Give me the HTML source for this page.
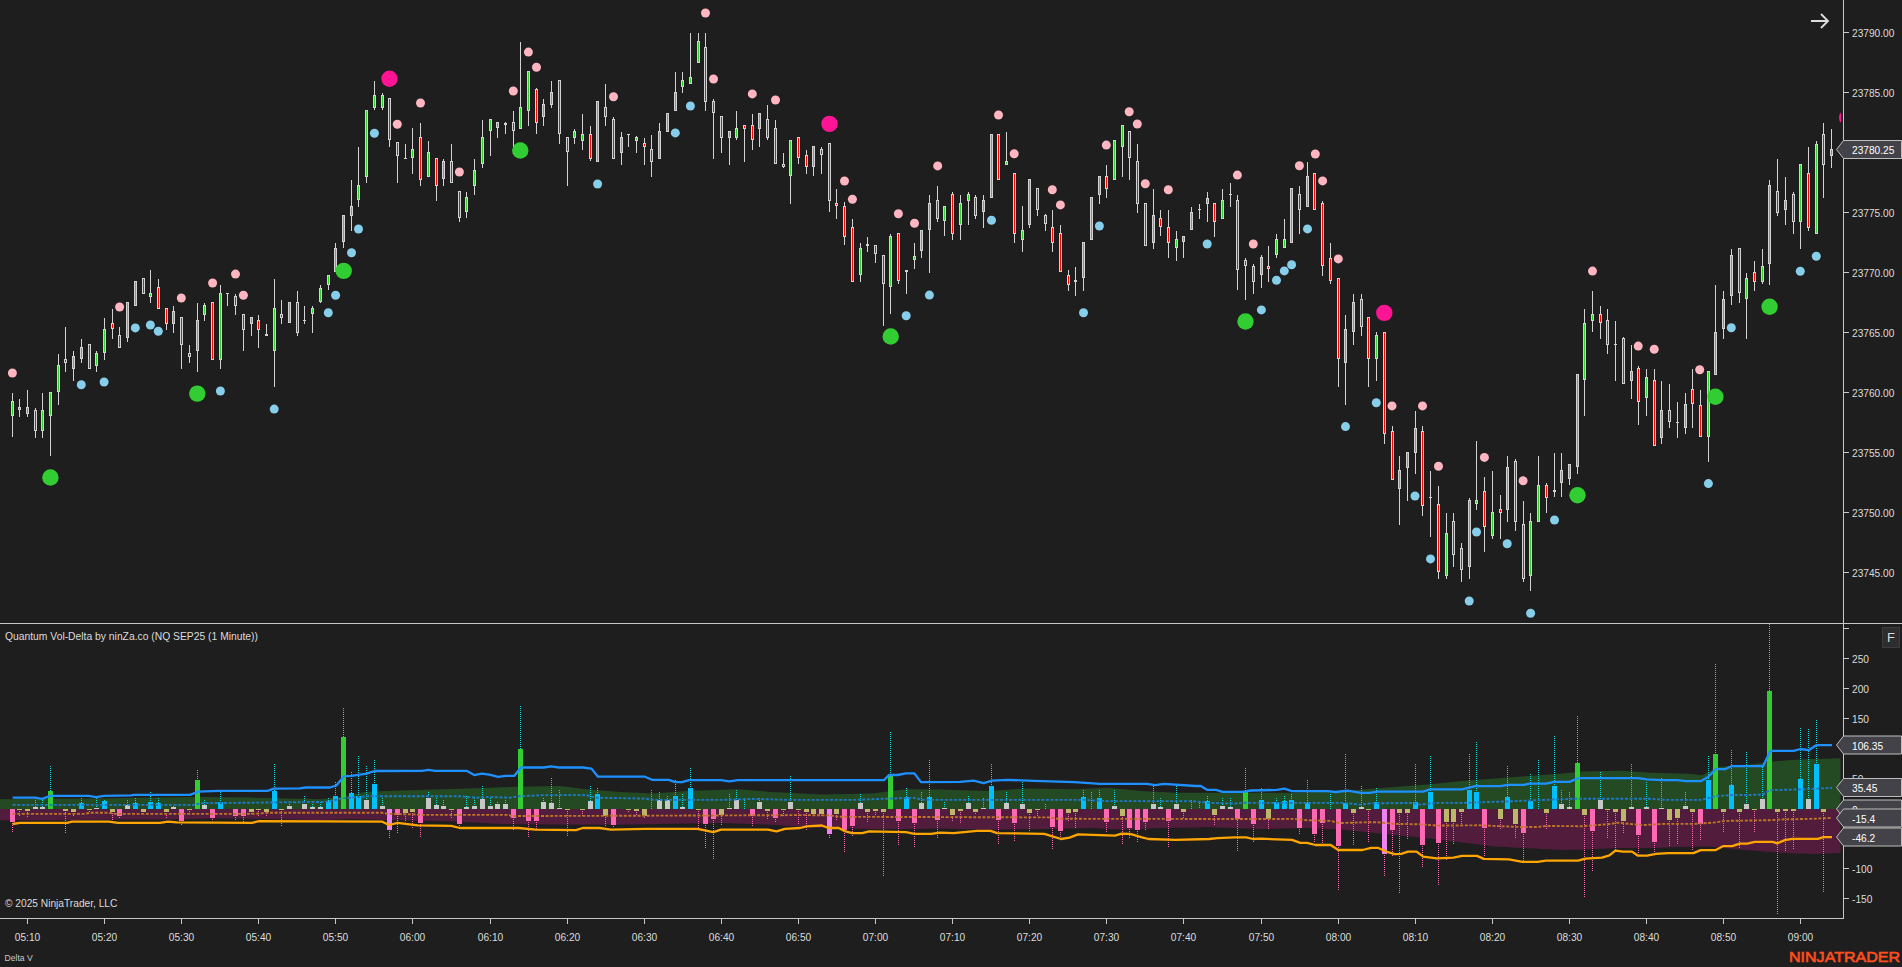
<!DOCTYPE html>
<html><head><meta charset="utf-8"><style>
html,body{margin:0;padding:0;background:#1e1e1e;overflow:hidden;width:1902px;height:967px}
svg{display:block}
.ax{font-family:"Liberation Sans",sans-serif;font-size:11px;fill:#dcdcdc}
</style></head><body>
<svg width="1902" height="967" viewBox="0 0 1902 967">
<rect width="1902" height="967" fill="#1e1e1e"/>
<g clip-path="url(#cl)">
<polygon points="0,809 0.0,799.3 50.0,798.8 101.0,798.5 151.0,797.6 202.0,797.1 252.0,797.6 286.0,798.5 320.0,799.3 340.0,797.0 367.0,791.8 401.0,790.4 468.0,788.4 518.7,786.7 560.8,785.9 586.0,789.3 620.0,791.9 653.6,793.6 687.3,791.0 737.8,789.3 771.4,791.9 821.9,794.4 872.4,793.6 906.0,789.3 940.0,789.6 990.5,791.0 1024.0,788.5 1074.6,789.3 1108.0,787.7 1142.0,791.0 1175.5,792.7 1260.0,792.8 1293.6,792.8 1344.0,791.1 1394.6,786.9 1428.0,784.4 1462.0,781.0 1495.5,778.5 1529.0,776.0 1562.8,773.5 1582.5,771.5 1620.0,770.7 1650.0,772.7 1687.4,773.7 1702.3,775.2 1717.3,767.0 1754.8,764.0 1777.3,761.0 1799.7,759.5 1840.5,758.3 1840.5,758.3 1840.5,809" fill="#244a24"/>
<polygon points="0,809 0.0,820.3 50.0,820.3 118.0,819.5 168.0,819.5 219.0,818.6 269.0,818.9 320.0,820.3 350.0,819.0 384.0,820.0 451.0,821.2 502.0,824.0 552.0,824.6 620.0,824.7 670.5,823.8 721.0,823.0 771.4,824.7 821.9,828.0 872.4,828.9 906.0,828.9 940.0,828.5 990.5,829.7 1041.0,828.9 1091.4,828.0 1125.0,829.7 1158.7,828.0 1209.0,827.2 1260.0,829.0 1310.5,828.1 1344.0,829.8 1394.6,834.9 1428.0,838.2 1462.0,842.4 1495.5,846.6 1529.0,848.3 1562.8,850.0 1582.5,849.4 1620.0,847.9 1650.0,847.9 1679.9,847.1 1709.8,846.4 1739.8,849.4 1784.8,853.1 1814.7,853.9 1840.5,853.1 1840.5,853.1 1840.5,809" fill="#521c3c"/>
<path d="M35.5 800V807 M42.5 800V807 M50.5 766V791 M81.5 798V803 M96.5 798V808 M104.5 800V801 M127.5 800V805 M135.5 798V803 M150.5 792V802 M158.5 798V803 M173.5 806V807 M197.5 770V780 M204.5 800V805 M220.5 792V802 M274.5 764V791 M289.5 804V806 M304.5 796V804 M312.5 804V807 M320.5 802V807 M328.5 798V801 M335.5 782V796 M343.5 708V737 M351.5 772V793 M358.5 756V796 M366.5 766V800 M374.5 760V784 M382.5 796V806 M428.5 792V798 M436.5 796V805 M443.5 800V806 M466.5 796V807 M474.5 798V806 M482.5 786V799 M490.5 798V806 M497.5 802V804 M505.5 800V804 M520.5 706V749 M543.5 798V802 M551.5 778V803 M559.5 790V808 M590.5 786V801 M597.5 788V794 M651.5 790V809 M659.5 792V800 M667.5 796V800 M675.5 780V796 M682.5 794V807 M690.5 768V788 M729.5 794V808 M736.5 790V800 M744.5 798V809 M759.5 798V802 M790.5 776V802 M860.5 794V803 M890.5 732V774 M906.5 788V797 M921.5 792V803 M929.5 760V797 M944.5 802V808 M968.5 796V803 M983.5 798V808 M991.5 764V786 M1006.5 792V803 M1022.5 782V804 M1045.5 804V809 M1083.5 790V797 M1091.5 792V809 M1099.5 790V798 M1114.5 790V806 M1153.5 786V804 M1160.5 798V807 M1176.5 786V804 M1191.5 800V809 M1199.5 801V809 M1207.5 796V801 M1222.5 798V806 M1230.5 798V807 M1245.5 768V792 M1261.5 788V800 M1276.5 798V802 M1284.5 796V801 M1291.5 794V800 M1307.5 780V803 M1330.5 794V809 M1345.5 754V803 M1361.5 786V807 M1376.5 788V802 M1415.5 764V802 M1430.5 756V792 M1469.5 754V790 M1476.5 742V792 M1507.5 766V797 M1530.5 774V801 M1538.5 760V809 M1554.5 736V786 M1561.5 790V804 M1569.5 792V807 M1577.5 716V763 M1600.5 772V800 M1631.5 764V807 M1646.5 782V807 M1661.5 778V808 M1685.5 792V806 M1708.5 756V780 M1715.5 664V754 M1731.5 750V785 M1746.5 752V804 M1762.5 767V799 M1769.5 624V691 M1800.5 728V779 M1808.5 729V799 M1816.5 720V764" stroke="#00e0e0" stroke-width="1" stroke-dasharray="1 1" fill="none"/>
<path d="M12.5 823V833 M19.5 811V817 M27.5 812V817 M65.5 812V833 M73.5 813V817 M89.5 811V812 M112.5 813V821 M119.5 817V818 M143.5 813V813 M166.5 813V819 M181.5 822V825 M189.5 811V813 M212.5 819V821 M235.5 817V820 M243.5 817V825 M251.5 813V815 M258.5 811V817 M266.5 813V817 M281.5 811V827 M389.5 831V839 M397.5 816V833 M405.5 814V821 M412.5 813V829 M420.5 824V837 M451.5 811V819 M459.5 825V827 M513.5 819V831 M528.5 822V837 M536.5 822V829 M567.5 811V837 M582.5 811V817 M605.5 817V827 M613.5 826V827 M628.5 811V813 M636.5 812V816 M644.5 817V819 M698.5 811V831 M705.5 825V849 M713.5 820V859 M721.5 816V826 M752.5 817V827 M767.5 812V819 M775.5 819V823 M783.5 811V817 M798.5 811V825 M806.5 813V831 M813.5 815V816 M821.5 815V817 M829.5 835V839 M836.5 815V821 M844.5 831V853 M852.5 827V837 M867.5 813V823 M875.5 812V816 M883.5 813V877 M898.5 822V845 M914.5 824V847 M937.5 821V839 M952.5 816V821 M960.5 812V823 M975.5 813V815 M998.5 821V845 M1014.5 824V841 M1029.5 814V831 M1037.5 811V816 M1052.5 828V849 M1060.5 832V837 M1068.5 814V821 M1075.5 813V829 M1106.5 823V833 M1122.5 817V845 M1129.5 829V839 M1137.5 831V843 M1145.5 823V831 M1168.5 822V847 M1183.5 813V819 M1214.5 816V825 M1237.5 820V851 M1253.5 825V843 M1268.5 820V829 M1299.5 829V835 M1314.5 835V843 M1322.5 824V843 M1338.5 847V891 M1353.5 814V845 M1368.5 811V843 M1384.5 855V876 M1392.5 831V857 M1399.5 814V893 M1407.5 814V839 M1422.5 846V867 M1438.5 844V885 M1446.5 823V861 M1453.5 823V845 M1461.5 813V825 M1484.5 829V857 M1500.5 820V829 M1515.5 825V839 M1523.5 834V864 M1546.5 814V829 M1584.5 816V897 M1592.5 832V871 M1607.5 811V839 M1615.5 813V850 M1623.5 822V833 M1638.5 836V854 M1654.5 843V853 M1669.5 821V847 M1677.5 819V845 M1692.5 813V851 M1700.5 825V841 M1723.5 813V832 M1739.5 813V849 M1754.5 811V833 M1777.5 813V914 M1785.5 812V852 M1793.5 812V850 M1823.5 813V892" stroke="#ff69b4" stroke-width="1" stroke-dasharray="1 1" fill="none"/>
<path d="M79 803h5v6h-5z M102 801h5v8h-5z M133 803h5v6h-5z M148 802h5v7h-5z M156 803h5v6h-5z M218 802h5v7h-5z M272 791h5v18h-5z M326 801h5v8h-5z M333 796h5v13h-5z M349 793h5v16h-5z M356 796h5v13h-5z M372 784h5v25h-5z M595 794h5v15h-5z M673 796h5v13h-5z M688 788h5v21h-5z M904 797h5v12h-5z M927 797h5v12h-5z M989 786h5v23h-5z M1081 797h5v12h-5z M1097 798h5v11h-5z M1205 801h5v8h-5z M1259 800h5v9h-5z M1274 802h5v7h-5z M1282 801h5v8h-5z M1289 800h5v9h-5z M1305 803h5v6h-5z M1343 803h5v6h-5z M1374 802h5v7h-5z M1413 802h5v7h-5z M1428 792h5v17h-5z M1467 790h5v19h-5z M1474 792h5v17h-5z M1505 797h5v12h-5z M1528 801h5v8h-5z M1552 786h5v23h-5z M1706 780h5v29h-5z M1729 785h5v24h-5z M1798 779h5v30h-5z M1814 764h5v45h-5z" fill="#00bfff" shape-rendering="crispEdges"/>
<path d="M48 791h5v18h-5z M195 780h5v29h-5z M341 737h5v72h-5z M518 749h5v60h-5z M888 774h5v35h-5z M1243 792h5v17h-5z M1575 763h5v46h-5z M1713 754h5v55h-5z M1767 691h5v118h-5z" fill="#32cd32" shape-rendering="crispEdges"/>
<path d="M33 807h5v2h-5z M40 807h5v2h-5z M94 808h5v1h-5z M125 805h5v4h-5z M171 807h5v2h-5z M202 805h5v4h-5z M287 806h5v3h-5z M302 804h5v5h-5z M310 807h5v2h-5z M318 807h5v2h-5z M364 800h5v9h-5z M380 806h5v3h-5z M426 798h5v11h-5z M434 805h5v4h-5z M441 806h5v3h-5z M464 807h5v2h-5z M472 806h5v3h-5z M480 799h5v10h-5z M488 806h5v3h-5z M495 804h5v5h-5z M503 804h5v5h-5z M541 802h5v7h-5z M549 803h5v6h-5z M557 808h5v1h-5z M588 801h5v8h-5z M657 800h5v9h-5z M665 800h5v9h-5z M680 807h5v2h-5z M727 808h5v1h-5z M734 800h5v9h-5z M757 802h5v7h-5z M788 802h5v7h-5z M858 803h5v6h-5z M919 803h5v6h-5z M942 808h5v1h-5z M966 803h5v6h-5z M981 808h5v1h-5z M1004 803h5v6h-5z M1020 804h5v5h-5z M1112 806h5v3h-5z M1151 804h5v5h-5z M1158 807h5v2h-5z M1174 804h5v5h-5z M1220 806h5v3h-5z M1228 807h5v2h-5z M1359 807h5v2h-5z M1559 804h5v5h-5z M1567 807h5v2h-5z M1598 800h5v9h-5z M1629 807h5v2h-5z M1644 807h5v2h-5z M1659 808h5v1h-5z M1683 806h5v3h-5z M1744 804h5v5h-5z M1760 799h5v10h-5z M1806 799h5v10h-5z" fill="#c8c8c8" shape-rendering="crispEdges"/>
<path d="M10 809h5v13h-5z M117 809h5v7h-5z M179 809h5v12h-5z M210 809h5v9h-5z M233 809h5v7h-5z M241 809h5v7h-5z M395 809h5v6h-5z M418 809h5v14h-5z M457 809h5v15h-5z M511 809h5v9h-5z M526 809h5v12h-5z M534 809h5v12h-5z M611 809h5v16h-5z M703 809h5v15h-5z M711 809h5v10h-5z M750 809h5v7h-5z M773 809h5v9h-5z M842 809h5v21h-5z M850 809h5v17h-5z M896 809h5v12h-5z M912 809h5v14h-5z M935 809h5v11h-5z M996 809h5v11h-5z M1012 809h5v14h-5z M1050 809h5v18h-5z M1058 809h5v22h-5z M1104 809h5v13h-5z M1127 809h5v19h-5z M1135 809h5v21h-5z M1143 809h5v13h-5z M1166 809h5v12h-5z M1235 809h5v10h-5z M1251 809h5v15h-5z M1297 809h5v19h-5z M1312 809h5v25h-5z M1320 809h5v14h-5z M1336 809h5v37h-5z M1390 809h5v21h-5z M1420 809h5v36h-5z M1436 809h5v34h-5z M1482 809h5v19h-5z M1521 809h5v24h-5z M1590 809h5v22h-5z M1636 809h5v26h-5z M1652 809h5v33h-5z M1698 809h5v15h-5z" fill="#ff69b4" shape-rendering="crispEdges"/>
<path d="M17 809h5v1h-5z M25 809h5v2h-5z M63 809h5v2h-5z M71 809h5v3h-5z M87 809h5v1h-5z M110 809h5v3h-5z M141 809h5v3h-5z M164 809h5v3h-5z M187 809h5v1h-5z M249 809h5v3h-5z M256 809h5v1h-5z M264 809h5v3h-5z M279 809h5v1h-5z M403 809h5v4h-5z M410 809h5v3h-5z M449 809h5v1h-5z M565 809h5v1h-5z M580 809h5v1h-5z M603 809h5v7h-5z M626 809h5v1h-5z M634 809h5v2h-5z M642 809h5v7h-5z M696 809h5v1h-5z M719 809h5v6h-5z M765 809h5v2h-5z M781 809h5v1h-5z M796 809h5v1h-5z M804 809h5v3h-5z M811 809h5v5h-5z M819 809h5v5h-5z M834 809h5v5h-5z M865 809h5v3h-5z M873 809h5v2h-5z M881 809h5v3h-5z M950 809h5v6h-5z M958 809h5v2h-5z M973 809h5v3h-5z M1027 809h5v4h-5z M1035 809h5v1h-5z M1066 809h5v4h-5z M1073 809h5v3h-5z M1120 809h5v7h-5z M1181 809h5v3h-5z M1212 809h5v6h-5z M1266 809h5v10h-5z M1351 809h5v4h-5z M1366 809h5v1h-5z M1397 809h5v4h-5z M1405 809h5v4h-5z M1444 809h5v13h-5z M1451 809h5v13h-5z M1459 809h5v3h-5z M1498 809h5v10h-5z M1513 809h5v15h-5z M1544 809h5v4h-5z M1582 809h5v6h-5z M1605 809h5v1h-5z M1613 809h5v3h-5z M1621 809h5v12h-5z M1667 809h5v11h-5z M1675 809h5v9h-5z M1690 809h5v3h-5z M1721 809h5v3h-5z M1737 809h5v3h-5z M1752 809h5v1h-5z M1775 809h5v3h-5z M1783 809h5v2h-5z M1791 809h5v2h-5z M1821 809h5v3h-5z" fill="#bdb76b" shape-rendering="crispEdges"/>
<path d="M387 809h5v21h-5z M827 809h5v25h-5z M1382 809h5v45h-5z" fill="#ee82ee" shape-rendering="crispEdges"/>
<polyline points="12.6,804.9 193.5,804.9 202.0,803.2 325.0,801.9 342.0,798.5 367.0,796.3 460.0,796.3 476.6,797.7 485.0,796.9 510.0,797.7 518.7,796.3 544.0,795.1 586.0,795.1 596.0,797.7 645.0,798.6 653.6,799.9 721.0,799.9 754.6,798.9 788.0,799.9 855.5,799.9 889.0,798.6 914.4,797.8 922.8,799.9 1083.0,799.9 1108.0,801.1 1192.0,801.1 1209.0,802.8 1234.4,803.6 1242.8,802.8 1260.0,802.9 1344.0,802.9 1361.0,804.6 1369.4,803.4 1411.4,802.9 1419.8,804.6 1436.6,802.9 1462.0,802.9 1512.4,801.2 1575.0,798.7 1650.0,798.7 1664.9,799.9 1700.8,799.9 1715.8,796.2 1732.3,795.1 1762.3,794.7 1769.8,790.2 1799.7,789.4 1832.0,787.9" fill="none" stroke="#1f78c1" stroke-width="1.9" stroke-dasharray="3 1.6"/>
<polyline points="12.6,813.9 84.0,813.9 90.0,812.8 109.0,812.8 115.0,813.9 252.0,813.9 269.0,812.8 382.0,812.8 389.0,813.9 413.4,814.4 422.0,814.9 509.0,814.9 511.0,816.0 620.0,815.8 805.0,815.1 830.0,815.4 838.7,816.8 940.0,817.1 1049.0,817.4 1057.8,818.8 1260.0,819.0 1293.6,818.9 1307.0,820.2 1330.7,820.9 1339.0,823.1 1369.4,822.2 1377.8,822.2 1394.6,823.9 1419.8,824.3 1436.6,825.6 1478.7,825.3 1520.8,827.0 1537.6,827.0 1546.0,826.0 1582.5,826.2 1611.0,823.9 1617.0,822.7 1642.4,825.1 1664.9,823.9 1694.9,823.9 1715.8,822.4 1724.8,820.9 1769.8,820.2 1784.8,819.4 1814.7,818.7 1832.0,817.9" fill="none" stroke="#bf7428" stroke-width="1.9" stroke-dasharray="3 1.6"/>
<polyline points="12.6,797.6 35.0,797.6 42.0,798.8 50.5,795.9 89.0,795.9 96.0,797.1 104.0,795.9 131.0,795.4 134.6,794.8 190.0,794.8 198.5,791.7 218.7,790.9 267.5,790.9 274.0,788.7 299.5,788.4 306.0,787.5 330.0,787.5 336.4,785.5 344.0,776.2 351.5,775.8 366.7,773.6 374.4,771.0 422.0,770.8 428.6,769.9 435.0,770.8 466.6,770.8 474.2,775.1 481.8,773.6 489.4,774.7 498.1,776.9 505.7,775.8 514.4,775.8 520.9,767.5 543.7,767.5 551.3,766.4 558.9,767.5 582.8,767.5 591.5,768.6 598.0,776.7 645.0,776.7 652.0,779.8 668.8,779.8 675.5,782.1 682.2,782.1 689.0,780.1 721.0,780.1 729.4,781.4 737.8,780.1 884.0,780.1 889.0,775.0 897.6,775.0 906.0,773.4 914.4,773.4 921.0,782.1 960.0,781.8 973.6,780.6 983.7,783.1 992.0,780.6 1007.3,779.8 1034.0,780.9 1074.6,782.1 1100.0,783.8 1147.0,783.8 1155.3,785.1 1163.8,783.8 1195.7,786.0 1200.8,786.0 1207.5,789.9 1216.0,789.9 1222.6,791.9 1242.8,791.9 1251.0,790.5 1276.8,789.9 1284.4,788.6 1292.0,791.1 1327.3,791.1 1335.7,792.0 1347.5,790.6 1361.0,792.8 1369.4,792.8 1377.8,791.6 1423.2,791.6 1430.0,789.4 1462.0,789.4 1475.3,786.1 1500.6,786.1 1507.3,784.9 1524.0,784.9 1529.2,783.6 1546.0,783.6 1554.4,781.9 1569.6,781.9 1578.0,778.2 1637.9,778.2 1646.9,779.3 1661.9,780.2 1676.9,780.2 1685.9,781.2 1700.8,781.2 1708.3,776.7 1715.8,769.2 1724.8,769.2 1731.6,766.2 1763.0,766.2 1770.5,750.8 1793.7,750.8 1800.5,749.0 1808.7,750.2 1816.2,745.2 1832.0,745.2" fill="none" stroke="#1e90ff" stroke-width="2.3" stroke-linejoin="round"/>
<polyline points="12.6,824.0 20.0,822.9 67.0,822.9 72.0,821.7 109.0,821.7 118.0,822.9 160.0,822.9 168.0,821.7 177.0,822.3 252.0,822.9 259.0,821.2 382.4,821.7 389.0,825.0 397.6,822.9 417.8,825.4 451.4,825.8 459.8,828.0 518.7,828.0 535.5,829.6 576.0,830.1 582.6,828.0 599.5,828.0 611.0,829.6 645.0,828.9 697.4,828.9 713.4,832.2 721.0,829.7 768.0,829.7 776.5,831.4 784.9,828.9 800.0,828.0 806.7,826.4 821.9,825.5 828.6,828.0 838.7,828.0 845.4,831.4 852.2,833.1 862.3,833.1 869.0,831.4 906.0,832.2 914.4,833.9 931.2,833.9 940.0,832.6 953.5,833.1 977.0,830.9 990.5,830.9 997.2,833.1 1044.3,833.9 1061.0,839.0 1069.5,837.6 1078.0,834.4 1115.0,835.6 1121.7,833.6 1130.0,833.9 1142.0,837.3 1148.6,839.0 1175.5,839.8 1209.0,839.0 1217.6,838.1 1234.4,837.3 1246.2,837.3 1253.0,839.0 1260.0,838.7 1292.0,839.9 1300.4,842.8 1307.0,842.8 1315.5,845.0 1330.7,845.0 1338.2,850.0 1362.6,850.0 1371.0,847.8 1377.8,847.8 1387.9,852.2 1394.6,854.2 1401.3,853.9 1408.0,851.7 1416.5,851.7 1423.2,856.7 1436.6,858.4 1453.5,857.6 1462.0,855.9 1477.0,855.9 1483.8,858.9 1509.0,859.3 1522.4,861.8 1537.6,861.8 1546.0,860.6 1578.0,860.6 1585.5,858.7 1602.0,857.6 1609.4,855.4 1615.4,850.6 1623.0,851.6 1632.0,851.6 1638.0,855.7 1647.0,855.7 1656.0,853.9 1667.9,853.1 1693.4,853.1 1700.8,850.1 1715.8,850.1 1723.3,846.1 1732.3,846.1 1739.8,843.7 1747.3,843.7 1754.8,841.9 1772.8,841.9 1777.3,843.4 1784.8,840.1 1792.2,838.9 1817.7,838.9 1823.7,837.1 1832.0,837.1" fill="none" stroke="#ffa500" stroke-width="2.3" stroke-linejoin="round"/>
</g>
<defs><clipPath id="cm"><rect x="0" y="0" width="1841" height="623"/></clipPath><clipPath id="cl"><rect x="0" y="624" width="1843" height="294"/></clipPath></defs><g clip-path="url(#cm)"><path d="M12.5 393V437 M19.5 399V417 M27.5 390V417 M35.5 408V438 M42.5 393V438 M50.5 392V456 M58.5 354V405 M65.5 327V372 M73.5 351V381 M81.5 339V363 M89.5 344V369 M96.5 351V372 M104.5 318V360 M112.5 309V339 M119.5 327V348 M127.5 302V342 M135.5 281V306 M143.5 278V294 M150.5 270V303 M158.5 279V309 M166.5 308V330 M173.5 306V333 M181.5 317V369 M189.5 345V363 M197.5 303V372 M204.5 303V321 M212.5 302V360 M220.5 285V369 M227.5 293V306 M235.5 294V315 M243.5 314V351 M251.5 317V336 M258.5 315V348 M266.5 324V336 M274.5 279V387 M281.5 300V324 M289.5 302V323 M297.5 291V336 M304.5 306V324 M312.5 306V333 M320.5 285V303 M328.5 275V290 M335.5 243V272 M343.5 215V248 M351.5 180V231 M358.5 147V207 M366.5 110V183 M374.5 81V110 M382.5 93V110 M389.5 98V147 M397.5 142V183 M405.5 144V158 M412.5 128V174 M420.5 123V186 M428.5 141V177 M436.5 158V201 M443.5 159V186 M451.5 144V183 M459.5 191V222 M466.5 192V218 M474.5 159V195 M482.5 120V168 M490.5 119V156 M497.5 122V138 M505.5 122V134 M513.5 111V147 M520.5 42V129 M528.5 71V126 M536.5 88V134 M543.5 99V126 M551.5 81V108 M559.5 80V144 M567.5 137V186 M574.5 129V144 M582.5 114V150 M590.5 126V161 M597.5 101V162 M605.5 84V126 M613.5 117V159 M621.5 132V165 M628.5 134V147 M636.5 136V153 M644.5 138V165 M651.5 135V177 M659.5 123V159 M667.5 113V132 M675.5 72V111 M682.5 72V93 M690.5 33V84 M698.5 33V63 M705.5 33V111 M713.5 99V159 M721.5 116V153 M729.5 131V165 M736.5 111V140 M744.5 125V162 M752.5 114V150 M759.5 113V147 M767.5 105V140 M775.5 120V164 M783.5 153V168 M790.5 140V204 M798.5 137V164 M806.5 150V174 M813.5 146V176 M821.5 147V174 M829.5 143V212 M836.5 189V219 M844.5 202V245 M852.5 219V282 M860.5 243V282 M867.5 237V252 M875.5 245V263 M883.5 255V326 M890.5 234V314 M898.5 233V284 M906.5 270V294 M914.5 243V269 M921.5 230V258 M929.5 195V273 M937.5 186V222 M944.5 206V236 M952.5 192V240 M960.5 195V240 M968.5 192V225 M975.5 195V219 M983.5 195V228 M991.5 134V198 M998.5 134V180 M1006.5 132V165 M1014.5 173V243 M1022.5 206V252 M1029.5 179V228 M1037.5 188V216 M1045.5 214V231 M1052.5 210V252 M1060.5 225V272 M1068.5 270V291 M1075.5 267V296 M1083.5 242V291 M1091.5 197V240 M1099.5 176V204 M1106.5 165V198 M1114.5 140V180 M1122.5 125V177 M1129.5 131V180 M1137.5 144V213 M1145.5 203V246 M1153.5 189V249 M1160.5 210V236 M1168.5 210V258 M1176.5 231V261 M1183.5 236V258 M1191.5 207V230 M1199.5 204V219 M1207.5 192V222 M1214.5 203V237 M1222.5 189V219 M1230.5 183V207 M1237.5 195V290 M1245.5 258V300 M1253.5 264V294 M1261.5 255V288 M1268.5 246V282 M1276.5 234V258 M1284.5 219V248 M1291.5 188V243 M1299.5 186V234 M1307.5 162V207 M1314.5 173V210 M1322.5 201V276 M1330.5 243V284 M1338.5 278V387 M1345.5 315V405 M1353.5 294V345 M1361.5 294V336 M1368.5 317V387 M1376.5 332V381 M1384.5 332V444 M1392.5 426V480 M1399.5 456V525 M1407.5 452V501 M1415.5 411V474 M1422.5 426V516 M1430.5 471V537 M1438.5 486V579 M1446.5 513V579 M1453.5 513V567 M1461.5 543V582 M1469.5 498V579 M1476.5 441V510 M1484.5 477V552 M1492.5 471V539 M1500.5 495V539 M1507.5 456V522 M1515.5 459V531 M1523.5 501V582 M1530.5 513V591 M1538.5 456V522 M1546.5 483V513 M1554.5 453V497 M1561.5 453V497 M1569.5 464V485 M1577.5 374V474 M1584.5 309V416 M1592.5 291V332 M1600.5 306V339 M1607.5 309V354 M1615.5 321V381 M1623.5 337V384 M1631.5 345V399 M1638.5 366V425 M1646.5 369V416 M1654.5 369V446 M1661.5 381V444 M1669.5 384V428 M1677.5 402V438 M1685.5 393V434 M1692.5 369V428 M1700.5 390V437 M1708.5 371V462 M1715.5 285V375 M1723.5 291V339 M1731.5 249V305 M1739.5 248V303 M1746.5 273V339 M1754.5 261V291 M1762.5 249V284 M1769.5 180V285 M1777.5 159V216 M1785.5 177V225 M1793.5 192V234 M1800.5 164V249 M1808.5 147V231 M1816.5 141V234 M1823.5 123V198 M1831.5 129V168" stroke="#d3d3d3" stroke-width="1" fill="none" shape-rendering="crispEdges"/><path d="M11 401h3v15h-3z M18 407h3v3h-3z M26 407h3v7h-3z M34 410h3v21h-3z M41 410h3v21h-3z M49 392h3v24h-3z M57 365h3v27h-3z M64 359h3v4h-3z M72 356h3v13h-3z M80 347h3v12h-3z M88 344h3v25h-3z M95 353h3v13h-3z M103 329h3v24h-3z M111 323h3v6h-3z M118 335h3v13h-3z M126 302h3v36h-3z M134 281h3v25h-3z M142 278h3v16h-3z M149 293h3v4h-3z M157 287h3v22h-3z M165 308h3v16h-3z M172 311h3v13h-3z M180 317h3v28h-3z M188 353h3v4h-3z M196 320h3v31h-3z M203 305h3v10h-3z M211 302h3v58h-3z M219 293h3v67h-3z M226 293h3v1h-3z M234 296h3v10h-3z M242 314h3v16h-3z M250 317h3v7h-3z M257 320h3v10h-3z M265 334h3v2h-3z M273 308h3v43h-3z M280 314h3v4h-3z M288 302h3v21h-3z M296 302h3v31h-3z M303 320h3v1h-3z M311 308h3v6h-3z M319 288h3v14h-3z M327 275h3v10h-3z M334 248h3v24h-3z M342 215h3v27h-3z M350 206h3v10h-3z M357 185h3v15h-3z M365 110h3v67h-3z M373 95h3v13h-3z M381 95h3v13h-3z M388 98h3v42h-3z M396 142h3v14h-3z M404 158h3v1h-3z M411 149h3v9h-3z M419 137h3v43h-3z M427 152h3v25h-3z M435 158h3v28h-3z M442 161h3v18h-3z M450 161h3v22h-3z M458 191h3v27h-3z M465 197h3v15h-3z M473 170h3v16h-3z M481 137h3v27h-3z M489 119h3v12h-3z M496 122h3v6h-3z M504 123h3v2h-3z M512 122h3v9h-3z M519 107h3v22h-3z M527 71h3v40h-3z M535 89h3v34h-3z M542 104h3v13h-3z M550 92h3v13h-3z M558 80h3v54h-3z M566 137h3v15h-3z M573 131h3v7h-3z M581 134h3v7h-3z M589 134h3v25h-3z M596 101h3v61h-3z M604 107h3v10h-3z M612 119h3v40h-3z M620 137h3v16h-3z M627 134h3v1h-3z M635 137h3v4h-3z M643 143h3v4h-3z M650 149h3v13h-3z M658 131h3v28h-3z M666 113h3v19h-3z M674 92h3v19h-3z M681 80h3v7h-3z M689 77h3v7h-3z M697 41h3v22h-3z M704 47h3v55h-3z M712 101h3v12h-3z M720 116h3v22h-3z M728 131h3v7h-3z M735 128h3v10h-3z M743 125h3v4h-3z M751 125h3v15h-3z M758 113h3v16h-3z M766 119h3v19h-3z M774 128h3v36h-3z M782 164h3v3h-3z M789 140h3v36h-3z M797 137h3v21h-3z M805 155h3v12h-3z M812 146h3v21h-3z M820 149h3v6h-3z M828 143h3v58h-3z M835 203h3v3h-3z M843 206h3v31h-3z M851 227h3v55h-3z M859 248h3v27h-3z M866 244h3v2h-3z M874 245h3v9h-3z M882 255h3v29h-3z M889 236h3v51h-3z M897 233h3v48h-3z M905 270h3v2h-3z M913 256h3v4h-3z M920 230h3v21h-3z M928 203h3v27h-3z M936 200h3v19h-3z M943 206h3v15h-3z M951 194h3v40h-3z M959 203h3v22h-3z M967 194h3v7h-3z M974 197h3v19h-3z M982 200h3v12h-3z M990 134h3v64h-3z M997 134h3v46h-3z M1005 161h3v4h-3z M1013 173h3v61h-3z M1021 230h3v10h-3z M1028 179h3v46h-3z M1036 188h3v22h-3z M1044 215h3v9h-3z M1051 227h3v16h-3z M1059 233h3v39h-3z M1067 275h3v10h-3z M1074 280h3v2h-3z M1082 242h3v36h-3z M1090 197h3v43h-3z M1098 176h3v19h-3z M1105 176h3v13h-3z M1113 140h3v40h-3z M1121 125h3v22h-3z M1128 131h3v27h-3z M1136 161h3v43h-3z M1144 203h3v43h-3z M1152 215h3v28h-3z M1159 218h3v9h-3z M1167 227h3v16h-3z M1175 239h3v9h-3z M1182 236h3v6h-3z M1190 212h3v18h-3z M1198 209h3v1h-3z M1206 198h3v6h-3z M1213 203h3v19h-3z M1221 200h3v19h-3z M1229 194h3v1h-3z M1236 200h3v70h-3z M1244 260h3v6h-3z M1252 266h3v16h-3z M1260 257h3v18h-3z M1267 266h3v3h-3z M1275 239h3v16h-3z M1283 239h3v9h-3z M1290 188h3v55h-3z M1298 194h3v16h-3z M1306 176h3v31h-3z M1313 173h3v37h-3z M1321 203h3v63h-3z M1329 258h3v23h-3z M1337 278h3v81h-3z M1344 329h3v34h-3z M1352 302h3v30h-3z M1360 299h3v28h-3z M1367 317h3v42h-3z M1375 335h3v24h-3z M1383 332h3v102h-3z M1391 431h3v49h-3z M1398 470h3v19h-3z M1406 452h3v16h-3z M1414 428h3v25h-3z M1421 431h3v75h-3z M1429 497h3v1h-3z M1437 504h3v68h-3z M1445 533h3v43h-3z M1452 521h3v34h-3z M1460 548h3v22h-3z M1468 500h3v67h-3z M1475 500h3v4h-3z M1483 491h3v36h-3z M1491 512h3v24h-3z M1499 509h3v4h-3z M1506 467h3v43h-3z M1514 461h3v61h-3z M1522 524h3v55h-3z M1529 521h3v55h-3z M1537 485h3v37h-3z M1545 485h3v13h-3z M1553 490h3v2h-3z M1560 470h3v13h-3z M1568 464h3v15h-3z M1576 374h3v93h-3z M1583 323h3v57h-3z M1591 314h3v7h-3z M1599 314h3v9h-3z M1606 320h3v25h-3z M1614 344h3v1h-3z M1622 338h3v46h-3z M1630 371h3v10h-3z M1637 368h3v34h-3z M1645 377h3v21h-3z M1653 380h3v66h-3z M1660 410h3v28h-3z M1668 410h3v12h-3z M1676 422h3v1h-3z M1684 404h3v24h-3z M1691 389h3v15h-3z M1699 405h3v32h-3z M1707 371h3v66h-3z M1714 332h3v43h-3z M1722 299h3v30h-3z M1730 255h3v41h-3z M1738 248h3v45h-3z M1745 278h3v21h-3z M1753 272h3v10h-3z M1761 266h3v16h-3z M1768 185h3v79h-3z M1776 191h3v22h-3z M1784 200h3v10h-3z M1792 194h3v28h-3z M1799 164h3v58h-3z M1807 173h3v55h-3z M1815 144h3v90h-3z M1822 134h3v31h-3z M1830 149h3v7h-3z" fill="#d3d3d3" shape-rendering="crispEdges"/><path d="M12 402h1v13h-1z M19 408h1v1h-1z M27 408h1v5h-1z M42 411h1v19h-1z M50 393h1v22h-1z M58 366h1v25h-1z M73 357h1v11h-1z M81 348h1v10h-1z M96 354h1v11h-1z M104 330h1v22h-1z M127 303h1v34h-1z M135 282h1v23h-1z M150 294h1v2h-1z M173 312h1v11h-1z M197 321h1v29h-1z M204 306h1v8h-1z M220 294h1v65h-1z M251 318h1v5h-1z M274 309h1v41h-1z M289 303h1v19h-1z M312 309h1v4h-1z M320 289h1v12h-1z M328 276h1v8h-1z M335 249h1v22h-1z M343 216h1v25h-1z M351 207h1v8h-1z M358 186h1v13h-1z M366 111h1v65h-1z M374 96h1v11h-1z M382 96h1v11h-1z M412 150h1v7h-1z M428 153h1v23h-1z M443 162h1v16h-1z M466 198h1v13h-1z M474 171h1v14h-1z M482 138h1v25h-1z M490 120h1v10h-1z M497 123h1v4h-1z M520 108h1v20h-1z M528 72h1v38h-1z M543 105h1v11h-1z M551 93h1v11h-1z M574 132h1v5h-1z M582 135h1v5h-1z M597 102h1v59h-1z M621 138h1v14h-1z M636 138h1v2h-1z M659 132h1v26h-1z M667 114h1v17h-1z M675 93h1v17h-1z M682 81h1v5h-1z M690 78h1v5h-1z M698 42h1v20h-1z M729 132h1v5h-1z M736 129h1v8h-1z M759 114h1v14h-1z M790 141h1v34h-1z M813 147h1v19h-1z M860 249h1v25h-1z M890 237h1v49h-1z M914 257h1v2h-1z M921 231h1v19h-1z M929 204h1v25h-1z M944 207h1v13h-1z M960 204h1v20h-1z M968 195h1v5h-1z M983 201h1v10h-1z M991 135h1v62h-1z M1006 162h1v2h-1z M1022 231h1v8h-1z M1029 180h1v44h-1z M1083 243h1v34h-1z M1091 198h1v41h-1z M1099 177h1v17h-1z M1114 141h1v38h-1z M1122 126h1v20h-1z M1153 216h1v26h-1z M1176 240h1v7h-1z M1183 237h1v4h-1z M1191 213h1v16h-1z M1207 199h1v4h-1z M1222 201h1v17h-1z M1261 258h1v16h-1z M1276 240h1v14h-1z M1284 240h1v7h-1z M1291 189h1v53h-1z M1307 177h1v29h-1z M1345 330h1v32h-1z M1353 303h1v28h-1z M1376 336h1v22h-1z M1399 471h1v17h-1z M1407 453h1v14h-1z M1415 429h1v23h-1z M1446 534h1v41h-1z M1469 501h1v65h-1z M1476 501h1v2h-1z M1492 513h1v22h-1z M1507 468h1v41h-1z M1530 522h1v53h-1z M1538 486h1v35h-1z M1561 471h1v11h-1z M1569 465h1v13h-1z M1577 375h1v91h-1z M1584 324h1v55h-1z M1592 315h1v5h-1z M1631 372h1v8h-1z M1646 378h1v19h-1z M1661 411h1v26h-1z M1685 405h1v22h-1z M1708 372h1v64h-1z M1715 333h1v41h-1z M1723 300h1v28h-1z M1731 256h1v39h-1z M1746 279h1v19h-1z M1762 267h1v14h-1z M1769 186h1v77h-1z M1785 201h1v8h-1z M1800 165h1v56h-1z M1816 145h1v88h-1z M1831 150h1v5h-1z" fill="#32cd32" shape-rendering="crispEdges"/><path d="M35 411h1v19h-1z M65 360h1v2h-1z M89 345h1v23h-1z M112 324h1v4h-1z M119 336h1v11h-1z M143 279h1v14h-1z M158 288h1v20h-1z M166 309h1v14h-1z M181 318h1v26h-1z M189 354h1v2h-1z M212 303h1v56h-1z M235 297h1v8h-1z M243 315h1v14h-1z M258 321h1v8h-1z M281 315h1v2h-1z M297 303h1v29h-1z M389 99h1v40h-1z M397 143h1v12h-1z M420 138h1v41h-1z M436 159h1v26h-1z M451 162h1v20h-1z M459 192h1v25h-1z M513 123h1v7h-1z M536 90h1v32h-1z M559 81h1v52h-1z M567 138h1v13h-1z M590 135h1v23h-1z M605 108h1v8h-1z M613 120h1v38h-1z M644 144h1v2h-1z M651 150h1v11h-1z M705 48h1v53h-1z M713 102h1v10h-1z M721 117h1v20h-1z M744 126h1v2h-1z M752 126h1v13h-1z M767 120h1v17h-1z M775 129h1v34h-1z M783 165h1v1h-1z M798 138h1v19h-1z M806 156h1v10h-1z M821 150h1v4h-1z M829 144h1v56h-1z M836 204h1v1h-1z M844 207h1v29h-1z M852 228h1v53h-1z M875 246h1v7h-1z M883 256h1v27h-1z M898 234h1v46h-1z M937 201h1v17h-1z M952 195h1v38h-1z M975 198h1v17h-1z M998 135h1v44h-1z M1014 174h1v59h-1z M1037 189h1v20h-1z M1045 216h1v7h-1z M1052 228h1v14h-1z M1060 234h1v37h-1z M1068 276h1v8h-1z M1106 177h1v11h-1z M1129 132h1v25h-1z M1137 162h1v41h-1z M1145 204h1v41h-1z M1160 219h1v7h-1z M1168 228h1v14h-1z M1214 204h1v17h-1z M1237 201h1v68h-1z M1245 261h1v4h-1z M1253 267h1v14h-1z M1268 267h1v1h-1z M1299 195h1v14h-1z M1314 174h1v35h-1z M1322 204h1v61h-1z M1330 259h1v21h-1z M1338 279h1v79h-1z M1361 300h1v26h-1z M1368 318h1v40h-1z M1384 333h1v100h-1z M1392 432h1v47h-1z M1422 432h1v73h-1z M1438 505h1v66h-1z M1453 522h1v32h-1z M1461 549h1v20h-1z M1484 492h1v34h-1z M1500 510h1v2h-1z M1515 462h1v59h-1z M1523 525h1v53h-1z M1546 486h1v11h-1z M1600 315h1v7h-1z M1607 321h1v23h-1z M1623 339h1v44h-1z M1638 369h1v32h-1z M1654 381h1v64h-1z M1669 411h1v10h-1z M1692 390h1v13h-1z M1700 406h1v30h-1z M1739 249h1v43h-1z M1754 273h1v8h-1z M1777 192h1v20h-1z M1793 195h1v26h-1z M1808 174h1v53h-1z M1823 135h1v29h-1z" fill="#ff0000" shape-rendering="crispEdges"/><circle cx="12.4" cy="373.0" r="4.5" fill="#ffb6c1"/><circle cx="50.4" cy="477.5" r="8.2" fill="#32cd32"/><circle cx="81.3" cy="384.8" r="4.5" fill="#87ceeb"/><circle cx="104.1" cy="382.0" r="4.5" fill="#87ceeb"/><circle cx="119.6" cy="307.0" r="4.5" fill="#ffb6c1"/><circle cx="135.3" cy="327.9" r="4.5" fill="#87ceeb"/><circle cx="150.4" cy="325.0" r="4.5" fill="#87ceeb"/><circle cx="158.3" cy="331.2" r="4.5" fill="#87ceeb"/><circle cx="181.3" cy="298.0" r="4.5" fill="#ffb6c1"/><circle cx="197.3" cy="393.6" r="8.2" fill="#32cd32"/><circle cx="212.6" cy="283.0" r="4.5" fill="#ffb6c1"/><circle cx="220.4" cy="391.0" r="4.5" fill="#87ceeb"/><circle cx="235.5" cy="274.1" r="4.5" fill="#ffb6c1"/><circle cx="243.4" cy="295.2" r="4.5" fill="#ffb6c1"/><circle cx="274.2" cy="409.1" r="4.5" fill="#87ceeb"/><circle cx="328.3" cy="312.8" r="4.5" fill="#87ceeb"/><circle cx="335.6" cy="295.2" r="4.5" fill="#87ceeb"/><circle cx="343.7" cy="270.9" r="8.2" fill="#32cd32"/><circle cx="351.5" cy="252.7" r="4.5" fill="#87ceeb"/><circle cx="358.5" cy="229.0" r="4.5" fill="#87ceeb"/><circle cx="374.4" cy="133.2" r="4.5" fill="#87ceeb"/><circle cx="389.5" cy="78.7" r="8.2" fill="#ff1493"/><circle cx="397.3" cy="124.2" r="4.5" fill="#ffb6c1"/><circle cx="420.5" cy="103.0" r="4.5" fill="#ffb6c1"/><circle cx="459.4" cy="172.0" r="4.5" fill="#ffb6c1"/><circle cx="513.3" cy="91.0" r="4.5" fill="#ffb6c1"/><circle cx="520.3" cy="150.5" r="8.2" fill="#32cd32"/><circle cx="528.4" cy="52.1" r="4.5" fill="#ffb6c1"/><circle cx="536.5" cy="67.2" r="4.5" fill="#ffb6c1"/><circle cx="597.6" cy="184.0" r="4.5" fill="#87ceeb"/><circle cx="613.5" cy="96.7" r="4.5" fill="#ffb6c1"/><circle cx="675.3" cy="132.9" r="4.5" fill="#87ceeb"/><circle cx="690.4" cy="106.0" r="4.5" fill="#87ceeb"/><circle cx="705.5" cy="13.0" r="4.5" fill="#ffb6c1"/><circle cx="713.5" cy="79.0" r="4.5" fill="#ffb6c1"/><circle cx="752.3" cy="93.9" r="4.5" fill="#ffb6c1"/><circle cx="775.5" cy="100.0" r="4.5" fill="#ffb6c1"/><circle cx="829.5" cy="123.9" r="8.2" fill="#ff1493"/><circle cx="844.5" cy="181.0" r="4.5" fill="#ffb6c1"/><circle cx="852.4" cy="199.3" r="4.5" fill="#ffb6c1"/><circle cx="890.7" cy="336.5" r="8.2" fill="#32cd32"/><circle cx="898.4" cy="213.7" r="4.5" fill="#ffb6c1"/><circle cx="906.2" cy="315.8" r="4.5" fill="#87ceeb"/><circle cx="914.5" cy="223.3" r="4.5" fill="#ffb6c1"/><circle cx="929.4" cy="295.1" r="4.5" fill="#87ceeb"/><circle cx="937.7" cy="165.9" r="4.5" fill="#ffb6c1"/><circle cx="991.5" cy="220.2" r="4.5" fill="#87ceeb"/><circle cx="998.5" cy="115.0" r="4.5" fill="#ffb6c1"/><circle cx="1014.2" cy="153.8" r="4.5" fill="#ffb6c1"/><circle cx="1052.3" cy="189.7" r="4.5" fill="#ffb6c1"/><circle cx="1060.4" cy="204.9" r="4.5" fill="#ffb6c1"/><circle cx="1083.5" cy="312.8" r="4.5" fill="#87ceeb"/><circle cx="1099.4" cy="226.0" r="4.5" fill="#87ceeb"/><circle cx="1106.3" cy="145.1" r="4.5" fill="#ffb6c1"/><circle cx="1129.2" cy="111.8" r="4.5" fill="#ffb6c1"/><circle cx="1137.3" cy="124.0" r="4.5" fill="#ffb6c1"/><circle cx="1145.3" cy="183.8" r="4.5" fill="#ffb6c1"/><circle cx="1168.3" cy="189.7" r="4.5" fill="#ffb6c1"/><circle cx="1207.2" cy="244.0" r="4.5" fill="#87ceeb"/><circle cx="1237.4" cy="175.1" r="4.5" fill="#ffb6c1"/><circle cx="1245.5" cy="321.5" r="8.2" fill="#32cd32"/><circle cx="1253.3" cy="244.0" r="4.5" fill="#ffb6c1"/><circle cx="1261.4" cy="309.9" r="4.5" fill="#87ceeb"/><circle cx="1276.5" cy="280.2" r="4.5" fill="#87ceeb"/><circle cx="1284.3" cy="270.9" r="4.5" fill="#87ceeb"/><circle cx="1291.6" cy="264.7" r="4.5" fill="#87ceeb"/><circle cx="1299.4" cy="165.8" r="4.5" fill="#ffb6c1"/><circle cx="1307.5" cy="228.9" r="4.5" fill="#87ceeb"/><circle cx="1315.3" cy="154.0" r="4.5" fill="#ffb6c1"/><circle cx="1322.6" cy="180.9" r="4.5" fill="#ffb6c1"/><circle cx="1338.3" cy="258.9" r="4.5" fill="#ffb6c1"/><circle cx="1384.3" cy="312.9" r="8.2" fill="#ff1493"/><circle cx="1345.5" cy="426.6" r="4.5" fill="#87ceeb"/><circle cx="1376.3" cy="402.8" r="4.5" fill="#87ceeb"/><circle cx="1392.0" cy="405.9" r="4.5" fill="#ffb6c1"/><circle cx="1422.5" cy="405.9" r="4.5" fill="#ffb6c1"/><circle cx="1438.5" cy="466.2" r="4.5" fill="#ffb6c1"/><circle cx="1415.0" cy="496.0" r="4.5" fill="#87ceeb"/><circle cx="1430.5" cy="558.9" r="4.5" fill="#87ceeb"/><circle cx="1469.2" cy="601.0" r="4.5" fill="#87ceeb"/><circle cx="1476.5" cy="532.0" r="4.5" fill="#87ceeb"/><circle cx="1484.4" cy="457.4" r="4.5" fill="#ffb6c1"/><circle cx="1507.2" cy="543.8" r="4.5" fill="#87ceeb"/><circle cx="1523.1" cy="480.8" r="4.5" fill="#ffb6c1"/><circle cx="1530.6" cy="613.2" r="4.5" fill="#87ceeb"/><circle cx="1577.5" cy="495.2" r="8.2" fill="#32cd32"/><circle cx="1592.5" cy="271.1" r="4.5" fill="#ffb6c1"/><circle cx="1638.2" cy="346.1" r="4.5" fill="#ffb6c1"/><circle cx="1654.2" cy="349.2" r="4.5" fill="#ffb6c1"/><circle cx="1699.7" cy="369.8" r="4.5" fill="#ffb6c1"/><circle cx="1715.4" cy="396.8" r="8.2" fill="#32cd32"/><circle cx="1708.4" cy="483.6" r="4.5" fill="#87ceeb"/><circle cx="1731.3" cy="327.8" r="4.5" fill="#87ceeb"/><circle cx="1769.6" cy="306.8" r="8.2" fill="#32cd32"/><circle cx="1800.3" cy="271.3" r="4.5" fill="#87ceeb"/><circle cx="1816.3" cy="256.2" r="4.5" fill="#87ceeb"/><circle cx="1847.2" cy="117.7" r="8.2" fill="#ff1493"/><circle cx="1554.5" cy="520.0" r="4.5" fill="#87ceeb"/></g><path d="M0 623.5H1902 M1843.5 0V918 M0 918.5H1844" stroke="#c8c8c8" stroke-width="1" fill="none"/><text transform="translate(1852.00,36.60) scale(0.925,1)" class="ax" style="font-size:11px">23790.00</text><text transform="translate(1852.00,96.60) scale(0.925,1)" class="ax" style="font-size:11px">23785.00</text><text transform="translate(1852.00,156.60) scale(0.925,1)" class="ax" style="font-size:11px">23780.00</text><text transform="translate(1852.00,216.60) scale(0.925,1)" class="ax" style="font-size:11px">23775.00</text><text transform="translate(1852.00,276.60) scale(0.925,1)" class="ax" style="font-size:11px">23770.00</text><text transform="translate(1852.00,336.60) scale(0.925,1)" class="ax" style="font-size:11px">23765.00</text><text transform="translate(1852.00,396.60) scale(0.925,1)" class="ax" style="font-size:11px">23760.00</text><text transform="translate(1852.00,456.60) scale(0.925,1)" class="ax" style="font-size:11px">23755.00</text><text transform="translate(1852.00,516.60) scale(0.925,1)" class="ax" style="font-size:11px">23750.00</text><text transform="translate(1852.00,576.60) scale(0.925,1)" class="ax" style="font-size:11px">23745.00</text><text transform="translate(1852.00,663.40) scale(0.925,1)" class="ax" style="font-size:11px">250</text><text transform="translate(1852.00,693.40) scale(0.925,1)" class="ax" style="font-size:11px">200</text><text transform="translate(1852.00,723.40) scale(0.925,1)" class="ax" style="font-size:11px">150</text><text transform="translate(1852.00,753.40) scale(0.925,1)" class="ax" style="font-size:11px">100</text><text transform="translate(1852.00,783.40) scale(0.925,1)" class="ax" style="font-size:11px">50</text><text transform="translate(1852.00,813.40) scale(0.925,1)" class="ax" style="font-size:11px">0</text><text transform="translate(1852.00,873.40) scale(0.925,1)" class="ax" style="font-size:11px">-100</text><text transform="translate(1852.00,903.40) scale(0.925,1)" class="ax" style="font-size:11px">-150</text><text transform="translate(27.50,941.00) scale(0.925,1)" class="ax" text-anchor="middle" style="font-size:11px">05:10</text><text transform="translate(104.50,941.00) scale(0.925,1)" class="ax" text-anchor="middle" style="font-size:11px">05:20</text><text transform="translate(181.50,941.00) scale(0.925,1)" class="ax" text-anchor="middle" style="font-size:11px">05:30</text><text transform="translate(258.50,941.00) scale(0.925,1)" class="ax" text-anchor="middle" style="font-size:11px">05:40</text><text transform="translate(335.50,941.00) scale(0.925,1)" class="ax" text-anchor="middle" style="font-size:11px">05:50</text><text transform="translate(412.50,941.00) scale(0.925,1)" class="ax" text-anchor="middle" style="font-size:11px">06:00</text><text transform="translate(490.50,941.00) scale(0.925,1)" class="ax" text-anchor="middle" style="font-size:11px">06:10</text><text transform="translate(567.50,941.00) scale(0.925,1)" class="ax" text-anchor="middle" style="font-size:11px">06:20</text><text transform="translate(644.50,941.00) scale(0.925,1)" class="ax" text-anchor="middle" style="font-size:11px">06:30</text><text transform="translate(721.50,941.00) scale(0.925,1)" class="ax" text-anchor="middle" style="font-size:11px">06:40</text><text transform="translate(798.50,941.00) scale(0.925,1)" class="ax" text-anchor="middle" style="font-size:11px">06:50</text><text transform="translate(875.50,941.00) scale(0.925,1)" class="ax" text-anchor="middle" style="font-size:11px">07:00</text><text transform="translate(952.50,941.00) scale(0.925,1)" class="ax" text-anchor="middle" style="font-size:11px">07:10</text><text transform="translate(1029.50,941.00) scale(0.925,1)" class="ax" text-anchor="middle" style="font-size:11px">07:20</text><text transform="translate(1106.50,941.00) scale(0.925,1)" class="ax" text-anchor="middle" style="font-size:11px">07:30</text><text transform="translate(1183.50,941.00) scale(0.925,1)" class="ax" text-anchor="middle" style="font-size:11px">07:40</text><text transform="translate(1261.50,941.00) scale(0.925,1)" class="ax" text-anchor="middle" style="font-size:11px">07:50</text><text transform="translate(1338.50,941.00) scale(0.925,1)" class="ax" text-anchor="middle" style="font-size:11px">08:00</text><text transform="translate(1415.50,941.00) scale(0.925,1)" class="ax" text-anchor="middle" style="font-size:11px">08:10</text><text transform="translate(1492.50,941.00) scale(0.925,1)" class="ax" text-anchor="middle" style="font-size:11px">08:20</text><text transform="translate(1569.50,941.00) scale(0.925,1)" class="ax" text-anchor="middle" style="font-size:11px">08:30</text><text transform="translate(1646.50,941.00) scale(0.925,1)" class="ax" text-anchor="middle" style="font-size:11px">08:40</text><text transform="translate(1723.50,941.00) scale(0.925,1)" class="ax" text-anchor="middle" style="font-size:11px">08:50</text><text transform="translate(1800.50,941.00) scale(0.925,1)" class="ax" text-anchor="middle" style="font-size:11px">09:00</text><path d="M1843 32.5H1849 M1843 92.5H1849 M1843 152.5H1849 M1843 212.5H1849 M1843 272.5H1849 M1843 332.5H1849 M1843 392.5H1849 M1843 452.5H1849 M1843 512.5H1849 M1843 572.5H1849 M1843 628.5H1849 M1843 658.5H1849 M1843 688.5H1849 M1843 718.5H1849 M1843 748.5H1849 M1843 778.5H1849 M1843 808.5H1849 M1843 838.5H1849 M1843 868.5H1849 M1843 898.5H1849 M27.5 919V924 M104.5 919V924 M181.5 919V924 M258.5 919V924 M335.5 919V924 M412.5 919V924 M490.5 919V924 M567.5 919V924 M644.5 919V924 M721.5 919V924 M798.5 919V924 M875.5 919V924 M952.5 919V924 M1029.5 919V924 M1106.5 919V924 M1183.5 919V924 M1261.5 919V924 M1338.5 919V924 M1415.5 919V924 M1492.5 919V924 M1569.5 919V924 M1646.5 919V924 M1723.5 919V924 M1800.5 919V924" stroke="#c8c8c8" stroke-width="1" fill="none"/><path d="M1836.5 149.5 L1843.5 140.5 H1901.5 V158.5 H1843.5 Z" fill="#424248" stroke="#bebebe" stroke-width="1"/><text transform="translate(1852.00,154.10) scale(0.925,1)" class="ax" style="font-size:11px;fill:#ffffff">23780.25</text><path d="M1836.5 809.0 L1843.5 800.0 H1901.5 V818.0 H1843.5 Z" fill="#424248" stroke="#bebebe" stroke-width="1"/><text transform="translate(1852.00,813.60) scale(0.925,1)" class="ax" style="font-size:11px;fill:#ffffff">0</text><path d="M1836.5 787.5 L1843.5 778.5 H1901.5 V796.5 H1843.5 Z" fill="#424248" stroke="#bebebe" stroke-width="1"/><text transform="translate(1852.00,792.10) scale(0.925,1)" class="ax" style="font-size:11px;fill:#ffffff">35.45</text><path d="M1836.5 818.0 L1843.5 809.0 H1901.5 V827.0 H1843.5 Z" fill="#424248" stroke="#bebebe" stroke-width="1"/><text transform="translate(1852.00,822.60) scale(0.925,1)" class="ax" style="font-size:11px;fill:#ffffff">-15.4</text><path d="M1836.5 837.0 L1843.5 828.0 H1901.5 V846.0 H1843.5 Z" fill="#424248" stroke="#bebebe" stroke-width="1"/><text transform="translate(1852.00,841.60) scale(0.925,1)" class="ax" style="font-size:11px;fill:#ffffff">-46.2</text><path d="M1836.5 745.0 L1843.5 736.0 H1901.5 V754.0 H1843.5 Z" fill="#424248" stroke="#bebebe" stroke-width="1"/><text transform="translate(1852.00,749.60) scale(0.925,1)" class="ax" style="font-size:11px;fill:#ffffff">106.35</text><path d="M1811 21H1828 M1821 14L1828 21L1821 28" stroke="#dedede" stroke-width="1.8" fill="none"/><rect x="1882.5" y="627.5" width="17" height="20" fill="#2d2d30" stroke="#3c3c3f"/><text x="1891" y="642" class="ax" text-anchor="middle" style="font-size:13px">F</text><text transform="translate(5.00,639.60) scale(0.94,1)" class="ax" style="font-size:11px">Quantum Vol-Delta by ninZa.co (NQ SEP25 (1 Minute))</text><text transform="translate(5.00,906.70) scale(0.926,1)" class="ax" style="font-size:11px">© 2025 NinjaTrader, LLC</text><text transform="translate(4.50,961.20) scale(0.91,1)" class="ax" style="font-size:9.5px;fill:#c8c8c8">Delta V</text><text transform="translate(1789,962) scale(1.1,1)" style="font-family:'Liberation Sans',sans-serif;font-size:14.6px;fill:#ff4f1e;stroke:#ff4f1e;stroke-width:0.6px">NINJATRADER</text>
</svg></body></html>
